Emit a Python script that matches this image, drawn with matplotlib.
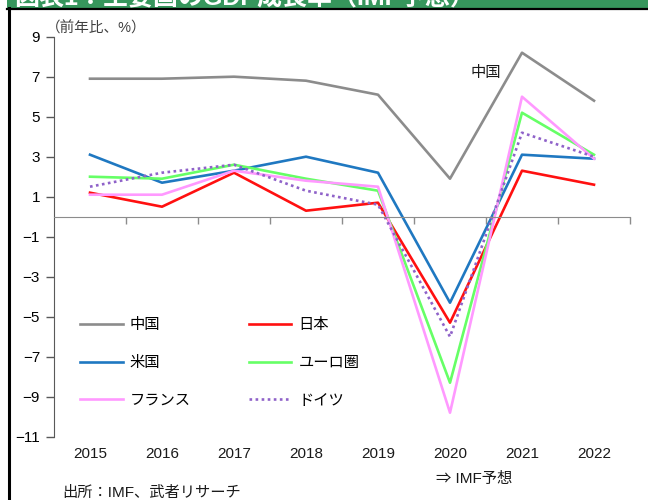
import numpy as np
import matplotlib.pyplot as plt
import matplotlib.transforms as mtransforms
from matplotlib.patches import Rectangle
from matplotlib.lines import Line2D

plt.rcParams['font.family'] = ['Liberation Sans', 'Noto Sans CJK JP', 'DejaVu Sans']

# data (前年比 %, IMF)
years = ['2015', '2016', '2017', '2018', '2019', '2020', '2021', '2022']
china = [6.9, 6.9, 7.0, 6.8, 6.1, 1.9, 8.2, 5.8]
japan = [1.2, 0.5, 2.2, 0.3, 0.7, -5.3, 2.3, 1.6]
usa = [3.1, 1.7, 2.3, 3.0, 2.2, -4.3, 3.1, 2.9]
euro = [2.0, 1.9, 2.6, 1.9, 1.3, -8.3, 5.2, 3.1]
france = [1.1, 1.1, 2.3, 1.8, 1.5, -9.8, 6.0, 2.9]
germany = [1.5, 2.2, 2.6, 1.3, 0.6, -6.0, 4.2, 3.0]
yticks = list(range(-11, 10, 2))

W, H = 648, 500
fig = plt.figure(figsize=(W / 100, H / 100), dpi=100)
ax = fig.add_axes([54 / W, 1 - 436.7 / H, 576 / W, 400 / H])

x = np.arange(len(years))
lines = {}
lines['中国'] = ax.plot(x, china, color='#8c8c8c', lw=1.9)[0]
lines['米国'] = ax.plot(x, usa, color='#1f78c1', lw=1.9)[0]
lines['日本'] = ax.plot(x, japan, color='#ff1010', lw=1.9)[0]
lines['ユーロ圏'] = ax.plot(x, euro, color='#66ff66', lw=1.9)[0]
lines['フランス'] = ax.plot(x, france, color='#ff99ff', lw=1.9)[0]
lines['ドイツ'] = ax.plot(x, germany, color='#8f62c9', lw=1.9, ls=(0, (1, 1.3)))[0]

ax.set_xlim(-0.5, len(years) - 0.5)
ax.set_ylim(-11, 9)
ax.set_yticks(yticks)
ax.tick_params(axis='y', length=6, width=1, color='#595959', labelsize=11, pad=4)

for s in ['top', 'right']:
    ax.spines[s].set_visible(False)
ax.spines['left'].set_color('#595959')
ax.spines['bottom'].set_position(('data', 0))
ax.spines['bottom'].set_color('#8c8c8c')
ax.set_xticks(x)
ax.set_xticklabels([])
ax.tick_params(axis='x', which='major', length=0)
ax.set_xticks(np.arange(0.5, len(years), 1), minor=True)
ax.tick_params(axis='x', which='minor', length=5, width=1, color='#8c8c8c')

trans = mtransforms.blended_transform_factory(ax.transData, ax.transAxes)
for i, yr in enumerate(years):
    ax.text(i, -0.042, yr, transform=trans, ha='center', va='center', fontsize=11, color='#1a1a1a')

ax.text(5.49, 7.2, '中国', ha='center', va='center', fontsize=11, color='#1a1a1a')

order = ['中国', '米国', 'フランス', '日本', 'ユーロ圏', 'ドイツ']
ax.legend([lines[k] for k in order], order, ncol=2, loc='upper left',
          bbox_to_anchor=(26 / 576, 0.296), frameon=False, fontsize=11,
          handlelength=2.8, handletextpad=0.45, labelspacing=1.55,
          columnspacing=3.8, borderpad=0, borderaxespad=0)

fig.text(46 / W, 1 - 28 / H, '（前年比、%）', fontsize=10.5, color='#404040', va='center', ha='left')
fig.text(436 / W, 1 - 479 / H, '⇒ IMF予想', fontsize=11, color='#1a1a1a', va='center', ha='left')
fig.text(62 / W, 1 - 493 / H, '出所：IMF、武者リサーチ', fontsize=11, color='#1a1a1a', va='center', ha='left')

# header bar (title cut off at the top edge, as in the source) and frame
fig.add_artist(Rectangle((7 / W, 1 - 8 / H), 1, 8 / H, transform=fig.transFigure,
                         facecolor='#36965c', edgecolor='none'))
fig.text(14 / W, 1 - 5 / H, '図表1：主要国のGDP成長率（IMF予想）', fontsize=18, weight='bold',
         color='white', va='baseline', ha='left')
fig.add_artist(Line2D([7 / W, 1], [1 - 9 / H, 1 - 9 / H], transform=fig.transFigure, color='black', lw=1.6))
fig.add_artist(Line2D([8.5 / W, 8.5 / W], [0, 1 - 8 / H], transform=fig.transFigure, color='black', lw=2.2))

fig.savefig('out.png', dpi=100)
